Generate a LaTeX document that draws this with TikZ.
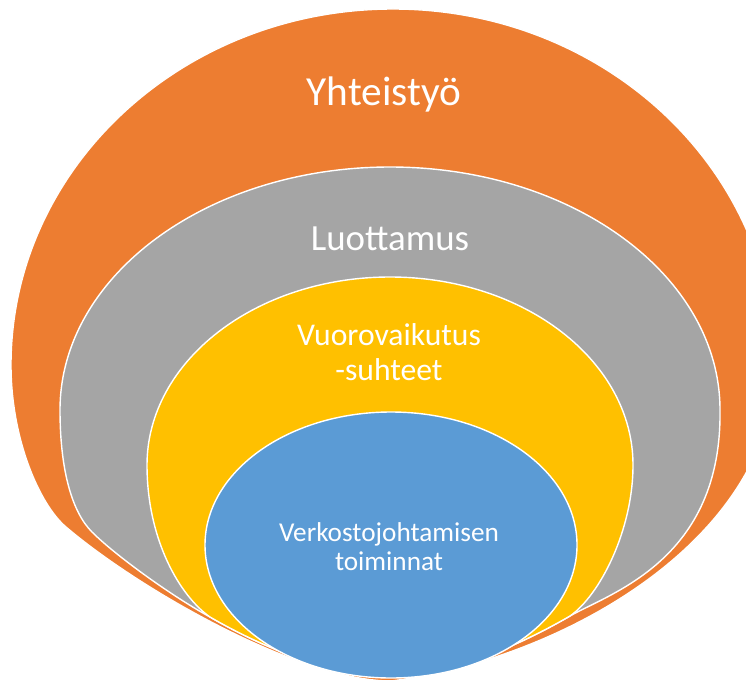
\documentclass[tikz,border=0pt]{standalone}
\usepackage{fontspec}
\setmainfont{Carlito}
\usetikzlibrary{positioning}
\definecolor{ringorange}{HTML}{ED7D31}
\definecolor{ringgray}{HTML}{A5A5A5}
\definecolor{ringyellow}{HTML}{FFC000}
\definecolor{ringblue}{HTML}{5B9BD5}
\tikzset{
  ring/.style={draw=white,line width=0.8pt},
  lbl/.style={text=white,align=center,inner sep=0pt}
}

\begin{document}
\begin{tikzpicture}[x=0.02cm,y=-0.02cm]
\clip (0,0) rectangle (746,679);
\fill[white] (0,0) rectangle (746,679);
\draw[ring,fill=ringorange] (11,365) .. controls (11,168.4) and (182,9) .. (393,9)
  .. controls (604,9) and (775,168.4) .. (775,365)
  .. controls (775,540) and (560,660) .. (391,681)
  .. controls (300,681) and (140,590) .. (66,527)
  .. controls (40,505) and (11,440) .. cycle;
\draw[ring,fill=ringgray] (60,410) .. controls (60,275.8) and (207.7,167) .. (390,167)
  .. controls (572.3,167) and (720,275.8) .. (720,410)
  .. controls (722,560) and (610,593) .. (570,616)
  .. controls (520,645) and (450,676) .. (391,676)
  .. controls (330,676) and (260,646) .. (210,617)
  .. controls (170,595) and (115,555) .. (92,532)
  .. controls (72,512) and (60,470) .. cycle;
\draw[ring,fill=ringyellow] (147,465) .. controls (147,361.2) and (255.8,277) .. (390,277)
  .. controls (524.2,277) and (633,361.2) .. (633,465)
  .. controls (633,530) and (600,595) .. (570,616)
  .. controls (520,645) and (450,676) .. (391,676)
  .. controls (330,676) and (260,646) .. (210,617)
  .. controls (180,596) and (147,540) .. cycle;
\draw[ring,fill=ringblue] (391,545) ellipse [x radius=186,y radius=133];

\node[lbl,font=\fontsize{23.5}{28}\selectfont,anchor=base] (yhteistyo) at (384,105) {Yhteistyö};
\node[lbl,font=\fontsize{21}{25}\selectfont,anchor=base] (luottamus) at (390,250) {Luottamus};
\node[lbl,font=\fontsize{18}{19.9}\selectfont] (vuoro) at (389,352) {Vuorovaikutus\\-suhteet};
\node[lbl,font=\fontsize{15.5}{16.5}\selectfont] (verkosto) at (389,547) {Verkostojohtamisen\\toiminnat};
\end{tikzpicture}
\end{document}
